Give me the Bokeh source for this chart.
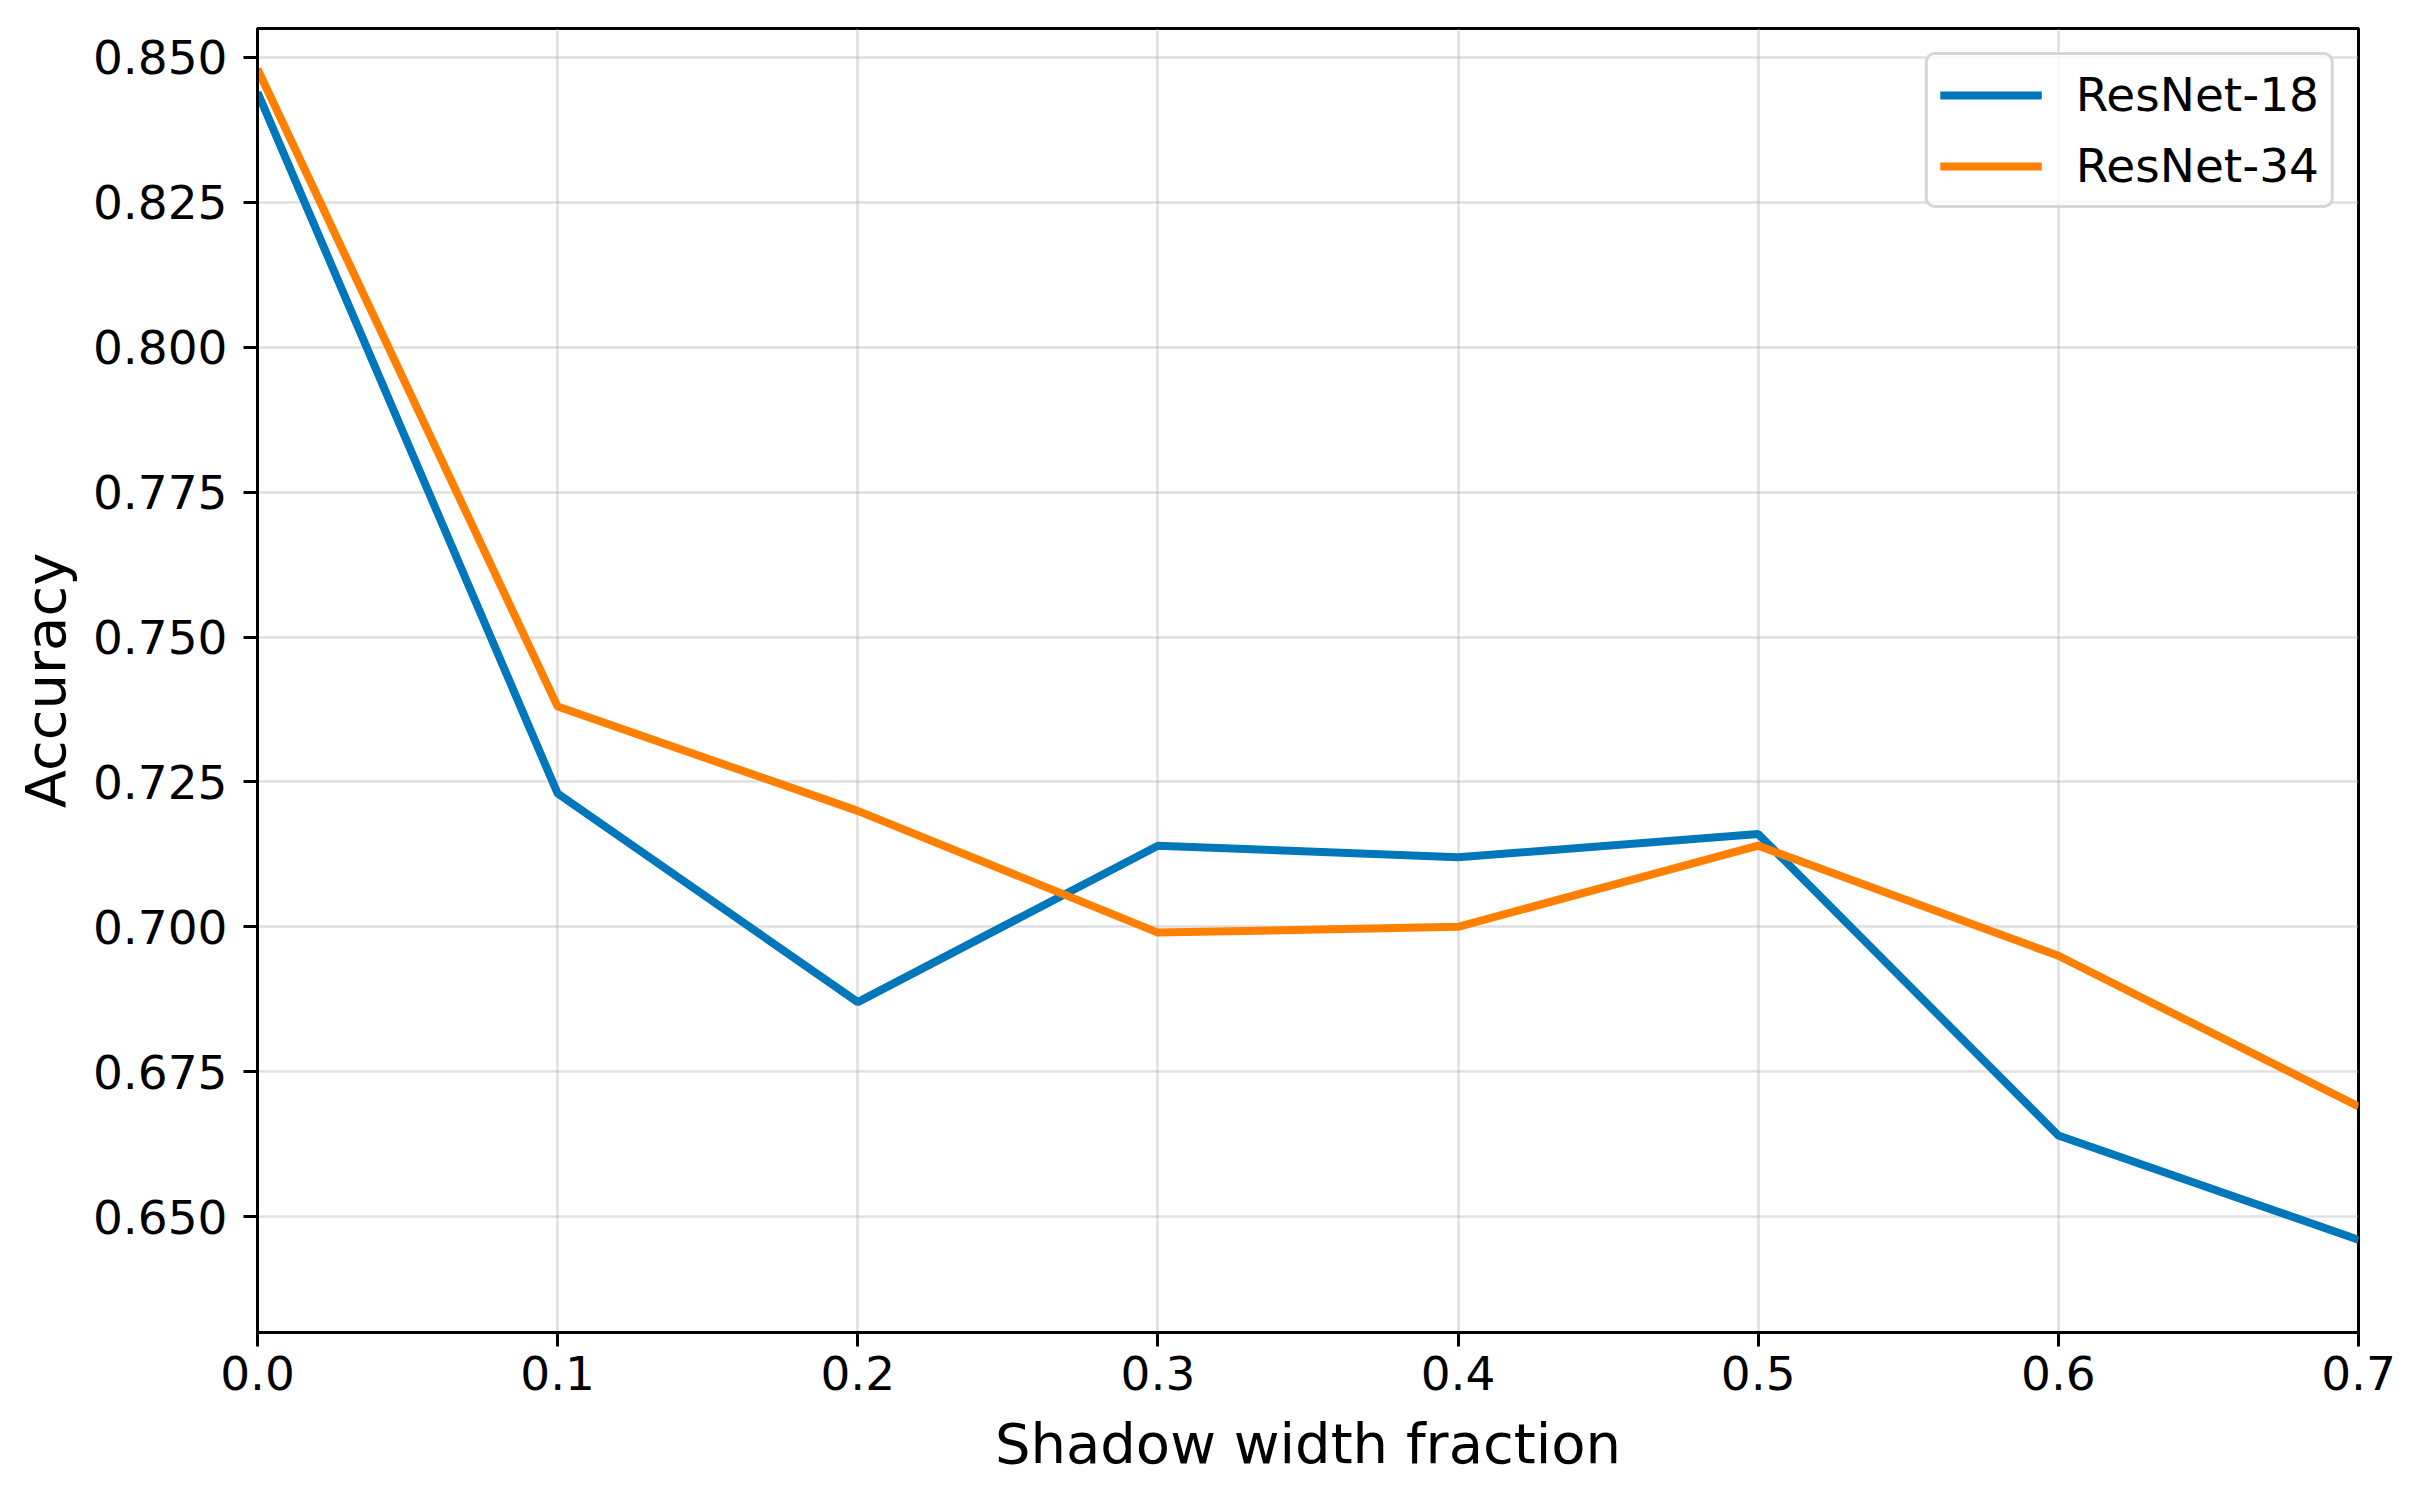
from bokeh.plotting import figure
from bokeh.models import Range1d, FixedTicker, PrintfTickFormatter, Legend, LegendItem
from bokeh.embed import file_html
from bokeh.resources import INLINE

# ---- data ----
shadow_fraction = [0.0, 0.1, 0.2, 0.3, 0.4, 0.5, 0.6, 0.7]
resnet18 = [0.844, 0.723, 0.687, 0.714, 0.712, 0.716, 0.664, 0.646]
resnet34 = [0.848, 0.738, 0.720, 0.699, 0.700, 0.714, 0.695, 0.669]
series_names = ["ResNet-18", "ResNet-34"]
x_ticks = [0.0, 0.1, 0.2, 0.3, 0.4, 0.5, 0.6, 0.7]
y_ticks = [0.650, 0.675, 0.700, 0.725, 0.750, 0.775, 0.800, 0.825, 0.850]
x_label = "Shadow width fraction"
y_label = "Accuracy"

FONT = "DejaVu Sans"
BLUE = "#0077bb"
ORANGE = "#ff8000"

p = figure(
    frame_width=2101, frame_height=1304,
    min_border_left=257, min_border_right=43,
    min_border_top=28, min_border_bottom=148,
    x_range=Range1d(0.0, 0.7), y_range=Range1d(0.630, 0.855),
    output_backend="svg", toolbar_location=None,
    background_fill_color="white", border_fill_color="white",
)

p.outline_line_color = "black"
p.outline_line_width = 3
p.outline_line_alpha = 1.0

r1 = p.line(shadow_fraction, resnet18, line_color=BLUE, line_width=8)
r2 = p.line(shadow_fraction, resnet34, line_color=ORANGE, line_width=8)

# axes
p.xaxis.ticker = FixedTicker(ticks=x_ticks)
p.yaxis.ticker = FixedTicker(ticks=y_ticks)
p.xaxis.formatter = PrintfTickFormatter(format="%.1f")
p.yaxis.formatter = PrintfTickFormatter(format="%.3f")
for ax in (p.xaxis, p.yaxis):
    ax.axis_line_width = 3
    ax.axis_line_color = "black"
    ax.major_tick_line_width = 3
    ax.major_tick_line_color = "black"
    ax.major_tick_out = 14
    ax.major_tick_in = 0
    ax.minor_tick_line_color = None
    ax.major_label_text_font = FONT
    ax.major_label_text_font_size = "47px"
    ax.major_label_text_color = "black"
    ax.axis_label_text_font = FONT
    ax.axis_label_text_font_size = "56px"
    ax.axis_label_text_font_style = "normal"
    ax.axis_label_text_color = "black"

p.xaxis.axis_label = x_label
p.yaxis.axis_label = y_label
p.xaxis.major_label_standoff = 9
p.yaxis.major_label_standoff = 16
p.xaxis.axis_label_standoff = 18
p.yaxis.axis_label_standoff = 12

# grid
p.grid.grid_line_color = "#b0b0b0"
p.grid.grid_line_alpha = 0.4
p.grid.grid_line_width = 2.5
p.xgrid.ticker = FixedTicker(ticks=x_ticks)
p.ygrid.ticker = FixedTicker(ticks=y_ticks)

# legend
legend = Legend(
    items=[LegendItem(label=series_names[0], renderers=[r1]),
           LegendItem(label=series_names[1], renderers=[r2])],
    location="top_right",
    margin=24,
    padding=12,
    spacing=16,
    glyph_width=102,
    glyph_height=44,
    label_standoff=34,
    label_text_font=FONT,
    label_text_font_size="47px",
    label_text_color="black",
    border_line_color="#cccccc",
    border_line_width=3,
    border_line_alpha=0.8,
    background_fill_color="white",
    background_fill_alpha=0.8,
)
try:
    legend.border_radius = 10
except Exception:
    pass
p.add_layout(legend)

open("out.html", "w").write(file_html(p, INLINE))
